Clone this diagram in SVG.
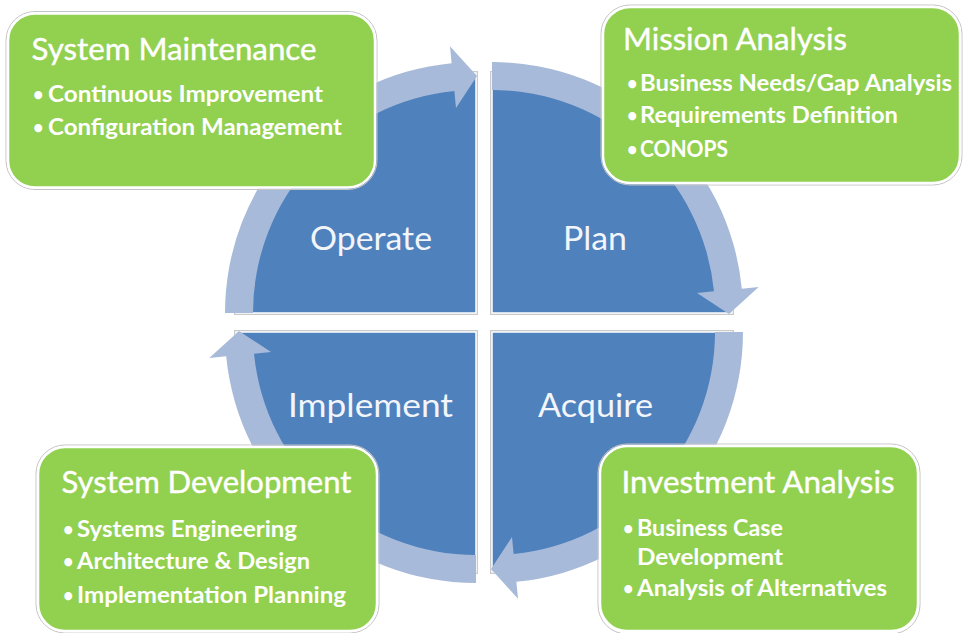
<svg xmlns="http://www.w3.org/2000/svg" width="963" height="633" viewBox="0 0 963 633">
<style>
.qe{fill:none;stroke:#CACACA;stroke-width:4}
.q{fill:#4F81BD;stroke:#FFFFFF;stroke-width:1.5}
.ring{fill:#A8BAD9}
.lbl{font-family:Lato,"Open Sans","Liberation Sans",sans-serif;font-size:33px;fill:#F2F5FA}
.boxe{fill:none;stroke:#C4C4C4;stroke-width:1}
.box{fill:#92D050;stroke:#FFFFFF;stroke-width:2.5}
.t{font-family:Lato,"Open Sans","Liberation Sans",sans-serif;font-size:31px;fill:#FFFFFF;stroke:#FFFFFF;stroke-width:0.4}
.b{font-family:Lato,"Open Sans","Liberation Sans",sans-serif;font-weight:bold;font-size:23px;fill:#FFFFFF}
.d{font-family:Lato,"Open Sans","Liberation Sans",sans-serif;font-weight:bold;font-size:18px;fill:#FFFFFF}
</style>
<defs>
<path id="quad" d="M0 0 L-240 0 A240 240 0 0 1 0 -240 Z"/>
<path id="arc" d="M-251 0 A251 251 0 0 1 -24.37 -249.82 L-26.02 -266.73 L1 -237 L-20 -205.03 L-21.65 -221.95 A223 223 0 0 0 -223 0 Z"/>
</defs>

<g id="operate">
<use href="#quad" class="qe" transform="translate(476,313)"/>
<use href="#quad" class="q" transform="translate(476,313)"/>
</g>
<g id="plan">
<use href="#quad" class="qe" transform="translate(492,313) rotate(90)"/>
<use href="#quad" class="q" transform="translate(492,313) rotate(90)"/>
</g>
<g id="acquire">
<use href="#quad" class="qe" transform="translate(492,332) rotate(180)"/>
<use href="#quad" class="q" transform="translate(492,332) rotate(180)"/>
</g>
<g id="implement">
<use href="#quad" class="qe" transform="translate(476,332) rotate(270)"/>
<use href="#quad" class="q" transform="translate(476,332) rotate(270)"/>
</g>

<g id="connectors">
<use href="#arc" class="ring" transform="translate(476,313)"/>
<use href="#arc" class="ring" transform="translate(492,313) rotate(90)"/>
<use href="#arc" class="ring" transform="translate(492,332) rotate(180)"/>
<use href="#arc" class="ring" transform="translate(476,332) rotate(270)"/>
</g>

<g id="labels">
<text class="lbl" x="310" y="250" textLength="122" lengthAdjust="spacingAndGlyphs">Operate</text>
<text class="lbl" x="563" y="250" textLength="64" lengthAdjust="spacingAndGlyphs">Plan</text>
<text class="lbl" x="288" y="417" textLength="165" lengthAdjust="spacingAndGlyphs">Implement</text>
<text class="lbl" x="538" y="417" textLength="115" lengthAdjust="spacingAndGlyphs">Acquire</text>
</g>

<g id="system-maintenance">
<rect class="boxe" x="6" y="11.5" width="371" height="178" rx="29"/>
<rect class="box" x="8" y="13.5" width="367" height="174" rx="27"/>
<text class="t" x="31.5" y="60" textLength="285" lengthAdjust="spacingAndGlyphs">System Maintenance</text>
<text class="d" x="33" y="101">•</text>
<text class="b" x="48" y="102" textLength="275" lengthAdjust="spacingAndGlyphs">Continuous Improvement</text>
<text class="d" x="33" y="134">•</text>
<text class="b" x="48" y="135" textLength="294" lengthAdjust="spacingAndGlyphs">Configuration Management</text>
</g>

<g id="mission-analysis">
<rect class="boxe" x="601" y="5" width="361" height="180" rx="29"/>
<rect class="box" x="603" y="7" width="357" height="176" rx="27"/>
<text class="t" x="623" y="50" textLength="224" lengthAdjust="spacingAndGlyphs">Mission Analysis</text>
<text class="d" x="627" y="90">•</text>
<text class="b" x="640" y="91" textLength="312" lengthAdjust="spacingAndGlyphs">Business Needs/Gap Analysis</text>
<text class="d" x="627" y="122">•</text>
<text class="b" x="640" y="123" textLength="258" lengthAdjust="spacingAndGlyphs">Requirements Definition</text>
<text class="d" x="627" y="156">•</text>
<text class="b" x="640" y="157" textLength="88" lengthAdjust="spacingAndGlyphs">CONOPS</text>
</g>

<g id="system-development">
<rect class="boxe" x="36" y="445" width="343" height="188" rx="29"/>
<rect class="box" x="38" y="447" width="339" height="184" rx="27"/>
<text class="t" x="61.5" y="493" textLength="290" lengthAdjust="spacingAndGlyphs">System Development</text>
<text class="d" x="63" y="536">•</text>
<text class="b" x="77" y="537" textLength="220" lengthAdjust="spacingAndGlyphs">Systems Engineering</text>
<text class="d" x="63" y="568">•</text>
<text class="b" x="77" y="569" textLength="233" lengthAdjust="spacingAndGlyphs">Architecture &amp; Design</text>
<text class="d" x="63" y="602">•</text>
<text class="b" x="77" y="603" textLength="269" lengthAdjust="spacingAndGlyphs">Implementation Planning</text>
</g>

<g id="investment-analysis">
<rect class="boxe" x="598" y="444" width="322" height="190" rx="29"/>
<rect class="box" x="600" y="446" width="318" height="185" rx="27"/>
<text class="t" x="621.5" y="493" textLength="273" lengthAdjust="spacingAndGlyphs">Investment Analysis</text>
<text class="d" x="623" y="535">•</text>
<text class="b" x="637" y="536" textLength="146" lengthAdjust="spacingAndGlyphs">Business Case</text>
<text class="b" x="637" y="565" textLength="146" lengthAdjust="spacingAndGlyphs">Development</text>
<text class="d" x="623" y="595">•</text>
<text class="b" x="637" y="596" textLength="250" lengthAdjust="spacingAndGlyphs">Analysis of Alternatives</text>
</g>
</svg>
